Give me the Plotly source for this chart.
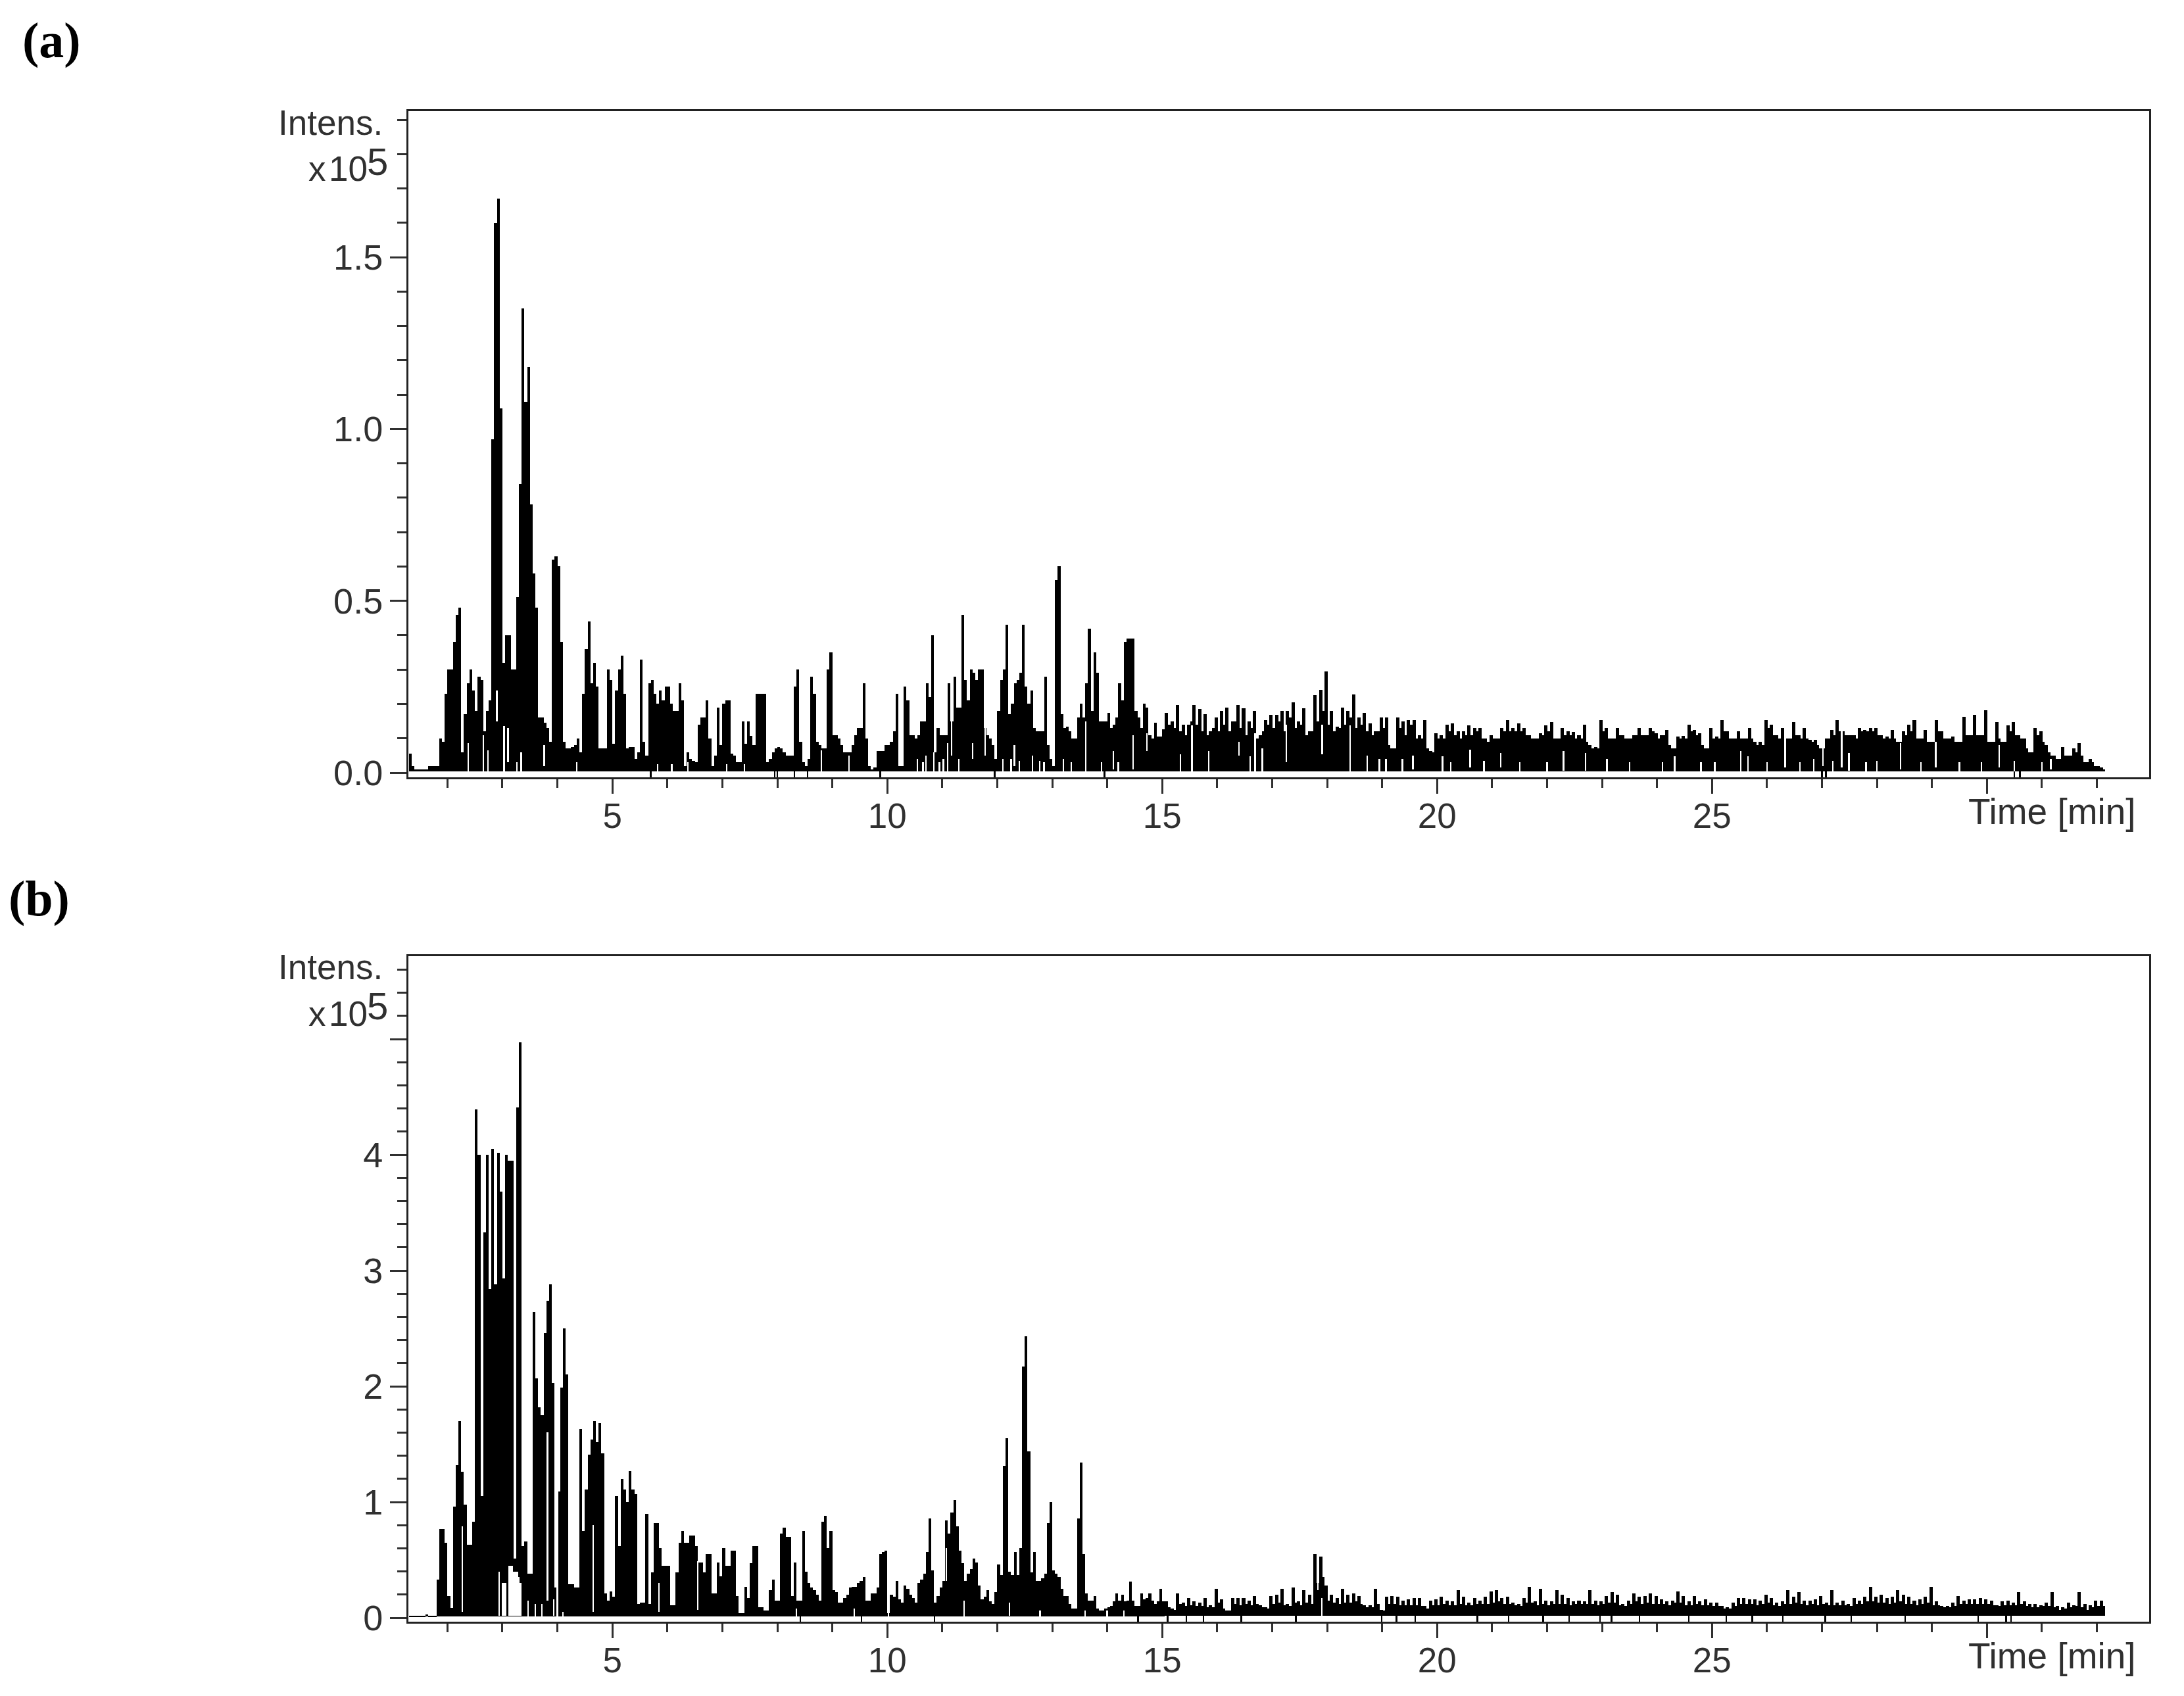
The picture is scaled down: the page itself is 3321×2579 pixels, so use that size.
import plotly.graph_objects as go

BIN_EARLY = 0.05
BIN_LATE = 0.1
T_EARLY = 1.3
T_LATE = 15.05

a_hi_early = [
5.5,2,1,1,1,1,1,2,2,2,2,10,9,23,30,30,38,46,48,6,
17,26,30,24,18,28,27,12,18,21,97,160,167,106,32,40,40,30,30,51,
84,135,108,118,78,58,48,16,16,14.5,13,9,62,63,60,38,9,7,7,7.5,
8,10,6,23,36,44,26,32,25,7,7,7,30,27,8.5,24,30,34,23,7,
7.5,7.5,4,6,33,9,5,26,27,23,20,24,21,25,25,20,18,18,26,21,
2,6,4,3.5,3,14,16,16,21,10,2,5,19,8,20,21,21,5.5,5,3,
3,15,8.5,15,10.7,8,23,23,23,23,3,4,6,7,7.5,7,6,5,5,5,
25,30,9,3,2,4,28,23,9,8,7,7,30,35,11,11,10,8,6,6,
6,8,11,13,13,26,10,2,1,1.5,6.4,6.4,6.4,8,8,9,12,23,2,2,
25,21,11,11,10,11,15,15,26,22,40,6,13,11,11,11,26,15,28,19,
19,46,27,21,30,29,27,30,30,13,11,10,8,4,18,27,30,43,17,20,
26,27,29,43,25,20,24,13,12,12,12,28,8,4,2,56,60,17,13,13.4,
12,10,10,16,20,16,26,42,18,35,29,15,15,15,17.5,13,14,16,26,21,
38,39,39,39,18,16,13,20,19,11,10,14.5,10.5,10.5,12.7]

a_hi_late = [
17.5,15,19.8,14,14,19.8,18.5,17,12,16,18,19,15,19.8,18.8,15,18,11,15.3,16.8,
16.8,18,18,20.4,15,18.8,12,22.6,24.2,29.5,18,13.4,19,18,22.8,16,17.5,14.3,12,16,
16,7,16,15,15.3,15.3,11,15.3,6.4,11.5,11,14,14.3,12,12,13.7,13,13,10,11,
10,13,15.3,13,14.3,13,11,10,11.5,13.7,14.7,10,13,12,11.8,11,14,8,7.5,15.3,
13,10,13,11,10,11,13,11,13,11.5,11,12.5,7,10.5,10.7,14,12.4,11.5,7,13,
10.5,15.3,12,10,12,10,13,9,9,15.3,14,11,13,10,14.7,11,13,9.5,9.5,7,
10,12.4,15.3,12,11,11,13,12.5,13,13,11,10.5,12.4,9,12,14,15.3,10,12.4,9,
15.3,12,10,10.5,9,16.3,11,16.9,11,18.2,9,14.7,9,13.7,14.7,11,10,6,13,12,
8,5,4,7.5,5,7,8.6,3,4,2,1.5]

a_valley_late = [
14,13,12,11,15,14,12,11,13,12,14,12,15,13,11,13,10,12,14,13,
15,12,16,13,14,11,12,15,18,14,12,13,14,16,13,14,12,11,12,13,
8,7,13,11,14,10,10,7,6,10,10,12,11,10,11,11,12,10,9,10,
10,12,12,12,12,11,10,10,11,12,10,10,11,11,10,10,9,7,7,12,
10,10,11,10,10,11,11,11,12,10,11,8,7,10,10,12,11,8,7,10,
10,12,10,10,10,10,10,8,8,13,11,10,9,10,11,10,10,9,8,7,
10,11,12,11,11,10,12,12,12,11,10,10,10,9,11,12,10,10,9,9,
12,10,10,9,9,11,11,11,11,9,9,10,9,12,11,10,7,6,11,9,
6,5,4,5,5,6,5,3,3,2,1]

a_floor = [0.4, 0.4]

a_gap_t = [2.38,2.65,2.74,2.9,3.03,3.1,3.26,3.34,3.76,4.35,5.82,6.08,6.37,7.08,7.4,8.8,9.3,
           10.55,10.65,10.7,10.85,10.95,11.02,11.1,11.17,11.3,11.55,11.78,12.1,12.25,12.31,12.4,12.64,12.77,12.85,
           13.2,13.35,13.61,13.9,14.11,14.2,14.47,14.72,15.33,15.54,15.85,16.4,16.6,16.69,16.82,17.26,17.91,18.42,
           18.73,18.95,19.07,19.37,19.56,20.1,20.25,20.6,20.85,21.16,21.5,22.0,22.3,22.7,23.09,23.5,24.1,24.32,24.8,
           25.05,25.52,25.65,26.0,26.33,26.6,26.85,27.02,27.2,27.36,27.49,27.8,28.0,28.43,28.8,29.07,29.5,29.9,
           30.22,30.5,31.0,31.16]
a_gap_low = [0.4,0.4,0.4,15,0.4,3,0.4,0.4,2,0.4,0.4,0.4,0.4,0.4,0.4,0.4,0.4,
             0.4,0.4,0.4,0.4,0.4,0.4,0.4,5,0.4,4,5,0.4,0.4,2,0.4,0.4,0.4,0.4,
             0.4,0.4,0.4,0.4,1,0.4,1,6.4,0.4,0.4,0.4,5,0.4,0.4,0.4,3,5.4,0.4,
             0.4,0.4,0.4,0.4,1,0.4,0.4,1.6,0.4,1.6,0.4,0.4,0.6,0.6,0.3,0.4,0.4,0.3,0.4,
             0.4,0.3,0.3,0.4,1.6,0.4,0.3,2,0.4,1.6,0.6,0.4,0.4,1,0.4,1.6,0.4,0.4,
             1.6,0.4,0.4,1]
a_gap_high = [8.6,11,6.5,24,13.5,13,3,6,8,3,2.5,2.5,3,2.5,2.5,6.5,5,
              4,3,5,6,3,4,8.6,15,4,8.6,13,4,4,8,3.5,5,3.5,3,
              4,3,15,3,6.4,3,11,11.5,5.4,13.7,6.4,9,4.8,11.5,7,14,14,13.7,
              5,4,4,4,5,4.8,3,6.7,3.5,5.7,3,3,6.4,5.7,4,3,3,4.8,3,
              3,6.4,4.8,3,13.4,3,4,8,3.5,13,5.7,3,3.5,8.6,3,9,3,3,
              8,3.5,3,4]
a_dip_t = [5.7,7.95,8.0,8.31,8.55,9.87,11.95,13.95,27.0,27.07,30.5,30.6]

b_hi_early = [
2,2,2,2,2,2,3,2,2,2,33,77,77,65,19,8.5,96,132,170,126,
98,63,63,83,439,400,105,333,400,284,405,288,402,368,293,400,395,395,51,441,
497,62,66,38,38,264,207,182,175,246,274,288,203,26,109,199,250,210,29,29,
26,26,163,75,111,141,154,170,152,168,142,21,15,23,18,105,62,120,111,100,
127,111,107,12,13,13,90,12,39,82,82,60,45,45,45,11,11,39,65,75,
65,65,71,71,62,48,48,39,55,55,21,21,48,36,60,45,45,58,58,19,
4,4,27,17,47,62,62,9,9,6,6,24,33,15,15,73,78,70,70,19,
48,15,15,75,40,30,26,24,20,15,83,88,60,75,24,22,13,13,17,20,
26,27,27,30,32,35,15,15,21,21,26,55,57,58,4,20,18,32,16,13,
28,25,20,17,13,30,33,38,57,86,41,13,19,26,32,84,73,91,102,79,
58,47,32,38,42,51,48,28,16,18,24,14,12,22,46,37,131,155,40,37,
57,37,60,217,243,144,39,57,32,32,34,38,82,100,41,38,35,25,19,19,
12,8,8,86,134,55,21,15,15,19,8,6,6,8,9,10,14,21,15,20,
14,15,31,15,10,10,21,16,17,21,15,12,14,25,14]

b_hi_late = [
14,8,21,13,17,14,13,17,11,25,16,6,17,17,17,15,19,11,9,19,
20,25,12,26,14,24,20,55,53,28,20,17,25,20,21,19,11,11,25,7,
18,19,18,15,16,17,17,10,15,16,18,15,14,24,18,13,17,15,18,23,
24,17,18,13,12,17,27,14,25,15,14,24,20,17,14,15,14,24,15,14,
19,22,20,12,15,21,18,19,21,19,16,14,15,23,19,14,19,14,16,13,
13,10,9,13,17,17,16,16,15,20,17,13,14,24,18,22,15,15,16,19,
13,24,13,15,12,17,15,18,27,18,20,17,18,24,20,18,15,16,18,27,
14,10,10,13,19,15,16,16,17,16,15,11,14,15,13,22,14,12,12,11,
13,22,10,9,13,11,22,12,11,15,15]

b_valley_late = [
9,7,12,10,11,10,10,9,9,13,8,6,12,11,12,11,12,9,8,12,
13,11,10,13,11,13,12,30,35,15,13,12,13,13,14,12,9,9,12,6,
12,12,11,11,11,11,10,8,11,11,12,11,11,12,11,11,12,12,12,13,
14,12,12,11,10,13,13,11,12,11,12,12,12,11,12,12,12,12,11,12,
13,13,11,10,12,14,12,13,12,12,12,11,13,13,11,11,12,11,11,10,
10,8,8,10,12,12,12,11,12,13,11,10,12,12,13,12,11,12,11,12,
11,11,11,11,10,12,12,14,14,13,13,12,13,14,12,12,11,12,13,11,
11,9,9,10,12,12,12,12,12,12,11,10,11,11,11,12,10,9,9,10,
10,9,7,8,9,10,9,7,9,10,10]

b_floor = [1, 2]

b_gap_t = [2.27,3.0,3.03,3.06,3.12,3.15,3.18,3.21,3.24,3.27,3.3,3.33,2.94,3.47,3.6,3.72,3.82,3.93,4.0,4.1,
           4.65,5.85,6.55,8.35,9.4,10.02,11.07,11.4,12.22,17.9,17.83,12.78,13.6,14.0,14.3]
b_gap_low = [5,2,2,2,2,2,2,2,2,2,2,2,2,1,1,1,15,2,1,1,
             5,5,7,1,1,1,32,1,2,2,24,1,1,1,1]
b_gap_high = [79,30,30,30,45,45,45,40,40,40,35,30,40,15,12,12,160,16,109,5,
              80,30,49,8,8,10,60,15,13,17,50,6,6,6,6]
b_dip_t = [8.42,9.53,10.86,14.56,15.1,15.44,15.75,16.44,17.43,18.99,19.26,19.6,20.73,21.3,21.93,22.4,22.96,23.17,
           23.68,24.58,25.26,25.73,26.29,27.06,27.53,28.51,29.84,30.35,30.44]

x_ticks = [5, 10, 15, 20, 25, 30]
x_labels = ["5", "10", "15", "20", "25", ""]
a_y_ticks = [0, 0.5, 1.0, 1.5]
a_y_labels = ["0.0", "0.5", "1.0", "1.5"]
b_y_ticks = [0, 1, 2, 3, 4, 5]
b_y_labels = ["0", "1", "2", "3", "4", ""]

W, H = 3321, 2579
INK = "#303030"
SANS = "Liberation Sans, Arial, sans-serif"


def panel_traces(early, late, valley, floor, gap_t, gap_low, gap_high, dip_t, axis_floor, x, y):
    times, widths, tops, bases = [], [], [], []
    for i, v in enumerate(early):
        times.append(T_EARLY + BIN_EARLY * (i + 0.5))
        widths.append(BIN_EARLY)
        tops.append(v)
        bases.append(floor[0])
    for i, (v, w) in enumerate(zip(late, valley)):
        for off, span, val in ((0.3, 0.6, v), (0.8, 0.4, w)):
            times.append(T_LATE + BIN_LATE * (i + off))
            widths.append(BIN_LATE * span)
            tops.append(val)
            bases.append(floor[1])
    out = [go.Bar(x=times, y=[(max(v, b + 0.6) - b) / 100 for v, b in zip(tops, bases)],
                  base=[b / 100 for b in bases], width=widths,
                  marker=dict(color="black", line=dict(width=0)), xaxis=x, yaxis=y,
                  hoverinfo="skip", showlegend=False)]
    out.append(go.Bar(x=gap_t, y=[(h - l) / 100 for l, h in zip(gap_low, gap_high)],
                      base=[l / 100 for l in gap_low], width=0.028,
                      marker=dict(color="white", line=dict(width=0)), xaxis=x, yaxis=y,
                      hoverinfo="skip", showlegend=False))
    out.append(go.Bar(x=dip_t, y=[(floor[1] - axis_floor) / 100] * len(dip_t), base=axis_floor / 100, width=0.03,
                      marker=dict(color="black", line=dict(width=0)), xaxis=x, yaxis=y,
                      hoverinfo="skip", showlegend=False))
    return out


fig = go.Figure()
for t in panel_traces(a_hi_early, a_hi_late, a_valley_late, a_floor, a_gap_t, a_gap_low, a_gap_high, a_dip_t,
                      -1.3, "x", "y"):
    fig.add_trace(t)
for t in panel_traces(b_hi_early, b_hi_late, b_valley_late, b_floor, b_gap_t, b_gap_low, b_gap_high, b_dip_t,
                      -3.2, "x2", "y2"):
    fig.add_trace(t)

X0, X1 = 621, 3268
A_TOP, A_BOT = 169, 1182
B_TOP, B_BOT = 1454, 2466
XR = [1.29, 32.95]


def xaxis(anchor):
    return dict(domain=[X0 / W, X1 / W], range=XR, anchor=anchor, showgrid=False, zeroline=False,
                showline=True, mirror=True, linecolor="#222222", linewidth=3,
                tickmode="array", tickvals=x_ticks, ticktext=x_labels, ticks="outside", ticklen=22, tickwidth=3,
                ticklabelstandoff=-12,
                tickcolor=INK, tickfont=dict(family=SANS, size=53, color=INK),
                minor=dict(tickmode="linear", tick0=0, dtick=1, ticks="outside", ticklen=13, tickwidth=3,
                           tickcolor=INK, showgrid=False))


def yaxis(anchor, top, bot, rng, vals, labels, minor):
    return dict(domain=[1 - bot / H, 1 - top / H], range=rng, anchor=anchor, showgrid=False, zeroline=False,
                showline=True, mirror=True, linecolor="#222222", linewidth=3,
                tickmode="array", tickvals=vals, ticktext=labels, ticks="outside", ticklen=25, tickwidth=3,
                tickcolor=INK, tickfont=dict(family=SANS, size=54, color=INK),
                minor=dict(tickmode="linear", tick0=0, dtick=minor, ticks="outside", ticklen=14, tickwidth=3,
                           tickcolor=INK, showgrid=False))


def note(text, x, y, anchor, size=53, family=SANS, color=INK):
    return dict(text=text, x=x / W, y=1 - y / H, xref="paper", yref="paper", xanchor=anchor, yanchor="middle",
                showarrow=False, font=dict(family=family, size=size, color=color))


anns = [note("<b>(a)</b>", 32, 62, "left", 76, "Liberation Serif, serif", "black"),
        note("<b>(b)</b>", 11, 1366, "left", 76, "Liberation Serif, serif", "black")]
for off in (0, 1284):
    anns += [note("Intens.", 584, 186 + off, "right"),
             note("x\u200a10", 561, 257 + off, "right"),
             note("5", 556, 245 + off, "left", 58),
             note("Time [min]", 3250, 1234 + off, "right", 55)]

fig.update_layout(width=W, height=H, autosize=False, margin=dict(l=0, r=0, t=0, b=0, autoexpand=False),
                  paper_bgcolor="white", plot_bgcolor="white", barmode="overlay", bargap=0, showlegend=False,
                  xaxis=xaxis("y"), yaxis=yaxis("x", A_TOP, A_BOT, [-0.0134, 1.925], a_y_ticks, a_y_labels, 0.1),
                  xaxis2=xaxis("y2"),
                  yaxis2=yaxis("x2", B_TOP, B_BOT, [-0.034, 5.716], b_y_ticks, b_y_labels, 0.2),
                  annotations=anns)
fig.write_html("out.html", post_script="document.body.style.margin='0';", config={"displayModeBar": False})
